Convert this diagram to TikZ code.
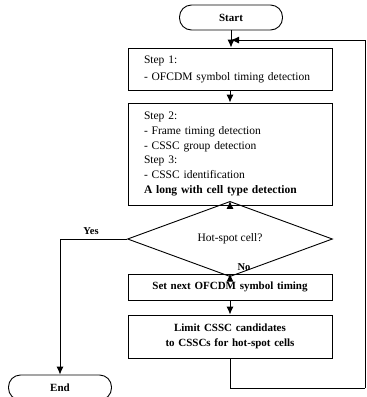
\documentclass[tikz,border=0pt]{standalone}
\usepackage{fontspec}
\setmainfont{Liberation Serif}
\usetikzlibrary{shapes.geometric,arrows.meta}
\tikzset{
  base/.style={draw, line width=0.9pt, inner sep=0pt},
  term/.style={base, rounded corners=12pt, minimum width=103pt, minimum height=25pt, font=\fontsize{11}{12}\selectfont\bfseries},
  procbox/.style={base, minimum width=204pt, text width=172pt},
  leftbox/.style={procbox, align=left, font=\fontsize{11.5}{14.8}\selectfont},
  centerbox/.style={procbox, align=center, font=\fontsize{11}{15}\selectfont\bfseries},
  decision/.style={base, diamond, minimum width=205pt, minimum height=40pt, font=\fontsize{11.5}{13}\selectfont},
  lbl/.style={font=\fontsize{10.5}{12}\selectfont\bfseries, inner sep=1pt},
  conn/.style={line width=0.9pt, -{Latex[length=8pt,width=7pt]}},
  line/.style={line width=0.9pt},
}
\begin{document}
\begin{tikzpicture}[x=1pt,y=-1pt]
\useasboundingbox (0,0) rectangle (367,397);
\node[term] (start) at (231,17.5) {Start};
\node[leftbox, minimum height=42pt, font=\fontsize{11.5}{17}\selectfont] (step1) at (230,69) {Step 1:\\- OFCDM symbol timing detection};
\node[leftbox, minimum height=102pt] (step2) at (230,154) {Step 2:\\- Frame timing detection\\- CSSC group detection\\Step 3:\\- CSSC identification\\\textbf{A long with cell type detection}};
\node[decision] (dec) at (230,239) {Hot-spot cell?};
\node[centerbox, minimum height=26pt] (set) at (230,287) {Set next OFCDM symbol timing};
\node[centerbox, minimum height=43pt] (limit) at (230,336.5) {Limit CSSC candidates\\to CSSCs for hot-spot cells};
\node[term] (end) at (60,387.5) {End};
\coordinate (loopin) at (231,40);
\coordinate (loopbr) at (365,388);
\node[lbl] (yes) at (91,231) {Yes};
\node[lbl] (no) at (244,267) {No};
\draw[conn] (start) -- (start.south |- step1.north);
\draw[conn] (step1) -- (step2);
\draw[conn] (step2) -- (dec);
\draw[conn] (dec) -- (set);
\draw[conn] (set) -- (limit);
\draw[conn] (dec.west) -| (end.north);
\draw[line] (limit.south) |- (loopbr);
\draw[conn] (loopbr) |- (loopin);
\end{tikzpicture}
\end{document}
